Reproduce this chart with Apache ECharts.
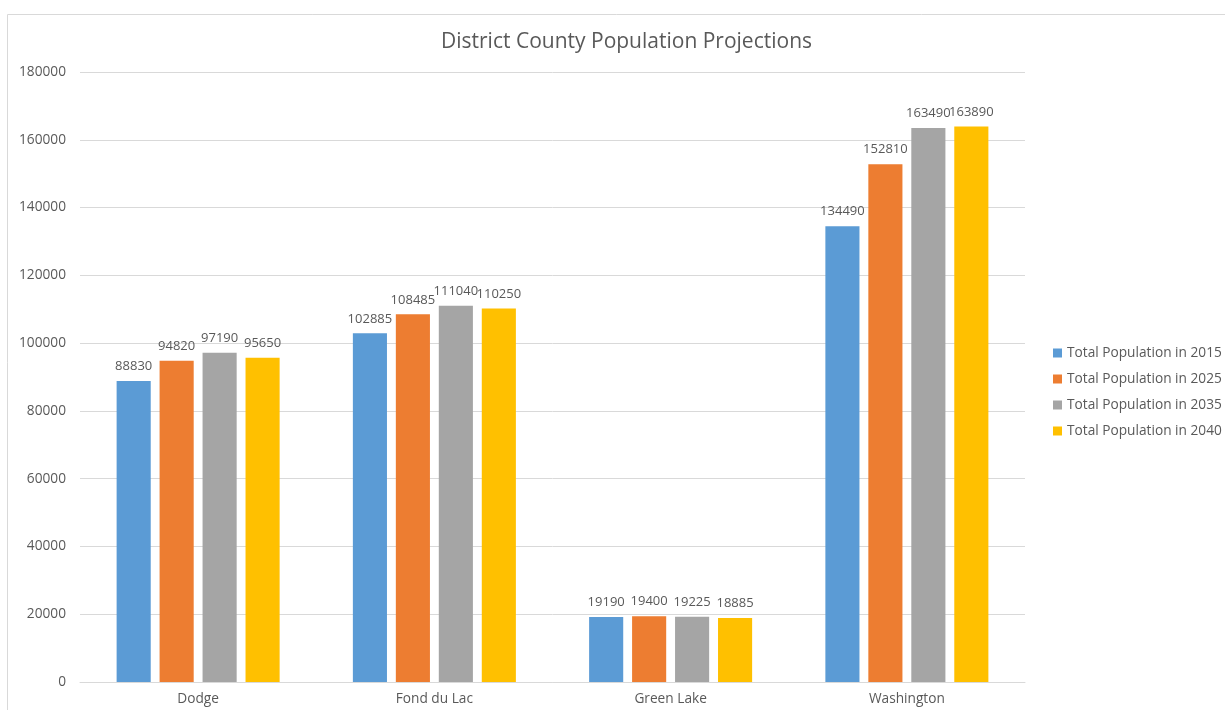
<!DOCTYPE html>
<html><head><meta charset="utf-8">
<script src="https://cdn.jsdelivr.net/npm/echarts@6/dist/echarts.min.js"></script>
<style>html,body{margin:0;padding:0;background:#fff}#c{width:1225px;height:710px}</style>
</head><body><div id="c"></div>
<script>
const categories = ['Dodge', 'Fond du Lac', 'Green Lake', 'Washington'];
const seriesNames = ['Total Population in 2015', 'Total Population in 2025', 'Total Population in 2035', 'Total Population in 2040'];
const pop2015 = [88830, 102885, 19190, 134490];
const pop2025 = [94820, 108485, 19400, 152810];
const pop2035 = [97190, 111040, 19225, 163490];
const pop2040 = [95650, 110250, 18885, 163890];
const colors = ['#5b9bd5', '#ed7d31', '#a5a5a5', '#ffc000'];
const values = [pop2015, pop2025, pop2035, pop2040];
const font = '"Open Sans", "Noto Sans", sans-serif';
const chart = echarts.init(document.getElementById('c'));
chart.setOption({
  animation: false,
  textStyle: {fontFamily: font},
  graphic: [{type: 'rect', shape: {x: 7.5, y: 14.5, width: 1230, height: 720}, style: {fill: 'none', stroke: '#d9d9d9', lineWidth: 1}, silent: true}],
  title: {text: 'District County Population Projections', left: 436, top: 27, textStyle: {fontSize: 21, fontWeight: 'normal', color: '#595959', fontFamily: font}},
  legend: {orient: 'vertical', left: 1048, top: 339, itemWidth: 9, itemHeight: 9, itemGap: 8, icon: 'rect',
    textStyle: {fontSize: 13.7, lineHeight: 18, color: '#595959', fontFamily: font}, data: seriesNames},
  grid: {left: 80, right: 200, top: 72, bottom: 28, containLabel: false},
  xAxis: {type: 'category', data: categories,
    axisLine: {lineStyle: {color: '#d9d9d9'}}, axisTick: {show: false},
    axisLabel: {color: '#595959', fontSize: 13.7, margin: 10, fontFamily: font}},
  yAxis: {type: 'value', min: 0, max: 180000, interval: 20000,
    axisLine: {show: false}, axisTick: {show: false},
    splitLine: {lineStyle: {color: '#d9d9d9'}},
    axisLabel: {color: '#595959', fontSize: 13.7, margin: 14, fontFamily: font, formatter: v => String(v)}},
  series: seriesNames.map((n, i) => ({
    name: n, type: 'bar', data: values[i], barGap: '26%', barCategoryGap: '31%',
    itemStyle: {color: colors[i]},
    label: {show: true, position: 'top', distance: 8, color: '#595959', fontSize: 13, fontFamily: font}
  }))
});
</script></body></html>
